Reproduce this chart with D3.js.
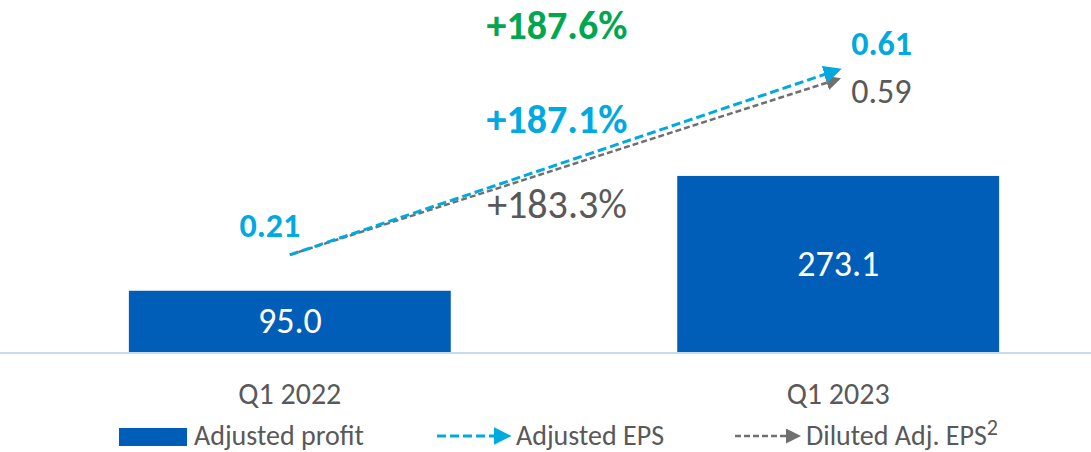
<!DOCTYPE html>
<html>
<head>
<meta charset="utf-8">
<script src="https://cdn.jsdelivr.net/npm/d3@7"></script>
<style>
  body { margin: 0; background: #fff; }
  svg text { font-family: Carlito, Calibri, Lato, "Noto Sans", sans-serif; }
</style>
</head>
<body>
<div id="chart"></div>
<script>
// Chart Data
const categories = ["Q1 2022", "Q1 2023"];
const adjustedProfit = [95.0, 273.1];
const adjustedEps = [0.21, 0.61];
const dilutedEps = [0.21, 0.59];
const growthLabels = ["+187.6%", "+187.1%", "+183.3%"];
const legendLabels = ["Adjusted profit", "Adjusted EPS", "Diluted Adj. EPS"];

// Dimensions For SVG Element
let w = 1091, h = 452, baseY = 352;

let svg = d3.select("#chart").append("svg").attr("width", w).attr("height", h);

// Scales
let x = d3.scaleBand().domain(categories).range([0, 1128]).paddingInner(0.413).paddingOuter(0.235);
let yBar = d3.scaleLinear().domain([0, 546]).range([baseY, 0]);
let yEps = d3.scaleLinear().domain([0, 0.761]).range([baseY, 0]);
let cx = (c) => x(c) + x.bandwidth() / 2;

// Arrow Markers
let defs = svg.append("defs");
[["arrBlue", "#00a9e0"], ["arrGray", "#707070"]].forEach(([id, col]) => {
  defs.append("marker").attr("id", id).attr("viewBox", "0 0 10 10").attr("refX", 8).attr("refY", 5)
    .attr("markerWidth", 6).attr("markerHeight", 6).attr("markerUnits", "strokeWidth").attr("orient", "auto")
    .append("path").attr("d", "M0,0 L10,5 L0,10 Z").attr("fill", col);
});

// Bars
svg.selectAll("rect.bar").data(adjustedProfit).enter().append("rect").attr("class", "bar")
  .attr("x", (d, i) => x(categories[i])).attr("width", x.bandwidth())
  .attr("y", (d) => yBar(d)).attr("height", (d) => baseY - yBar(d))
  .attr("fill", "#005eb8");

svg.selectAll("text.barlbl").data(adjustedProfit).enter().append("text").attr("class", "barlbl")
  .attr("x", (d, i) => cx(categories[i])).attr("y", (d) => (yBar(d) + baseY) / 2 + 12)
  .attr("text-anchor", "middle").attr("fill", "#fff").style("font-size", "36px")
  .text((d) => d.toFixed(1));

// Axis Line And Category Labels
svg.append("line").attr("x1", 0).attr("x2", w).attr("y1", baseY + 1).attr("y2", baseY + 1)
  .attr("stroke", "#c5dcf1").attr("stroke-width", 2);

svg.selectAll("text.cat").data(categories).enter().append("text").attr("class", "cat")
  .attr("x", (d) => cx(d)).attr("y", 404).attr("text-anchor", "middle")
  .attr("fill", "#595959").style("font-size", "30px").text((d) => d);

// EPS Lines
let line = d3.line().x((d, i) => cx(categories[i]));
svg.append("path").datum(dilutedEps).attr("fill", "none").attr("stroke", "#707070")
  .attr("stroke-width", 2.5).attr("stroke-dasharray", "6,3").attr("marker-end", "url(#arrGray)")
  .attr("d", line.y((d) => yEps(d)));
svg.append("path").datum(adjustedEps).attr("fill", "none").attr("stroke", "#00a9e0")
  .attr("stroke-width", 3).attr("stroke-dasharray", "9,4").attr("marker-end", "url(#arrBlue)")
  .attr("d", line.y((d) => yEps(d)));

// EPS Value Labels
svg.append("text").attr("x", cx(categories[0]) - 20).attr("y", yEps(adjustedEps[0]) - 18)
  .attr("text-anchor", "middle").attr("fill", "#00a9e0").style("font-size", "34px").style("font-weight", "bold")
  .text(adjustedEps[0].toFixed(2));
svg.append("text").attr("x", cx(categories[1]) + 13).attr("y", yEps(adjustedEps[1]) - 15)
  .attr("fill", "#00a9e0").style("font-size", "34px").style("font-weight", "bold")
  .text(adjustedEps[1].toFixed(2));
svg.append("text").attr("x", cx(categories[1]) + 13).attr("y", yEps(dilutedEps[1]) + 24)
  .attr("fill", "#595959").style("font-size", "34px")
  .text(dilutedEps[1].toFixed(2));

// Growth Labels
let midX = (cx(categories[0]) + cx(categories[1])) / 2 - 7;
let growthStyle = [["#00a650", "bold", 39], ["#00a9e0", "bold", 133], ["#595959", "normal", 218]];
svg.selectAll("text.growth").data(growthLabels).enter().append("text").attr("class", "growth")
  .attr("x", midX).attr("y", (d, i) => growthStyle[i][2]).attr("text-anchor", "middle")
  .attr("fill", (d, i) => growthStyle[i][0]).style("font-weight", (d, i) => growthStyle[i][1])
  .style("font-size", "40px").text((d) => d);

// Legend
let lg = svg.append("g").attr("transform", "translate(0,436)");
lg.append("rect").attr("x", 119).attr("y", -8).attr("width", 68).attr("height", 18).attr("fill", "#005eb8");
lg.append("text").attr("x", 194).attr("y", 9).attr("fill", "#595959").style("font-size", "28px").text(legendLabels[0]);
lg.append("line").attr("x1", 437).attr("x2", 508).attr("y1", 0).attr("y2", 0).attr("stroke", "#00a9e0")
  .attr("stroke-width", 3).attr("stroke-dasharray", "9,4").attr("marker-end", "url(#arrBlue)");
lg.append("text").attr("x", 516).attr("y", 9).attr("fill", "#595959").style("font-size", "28px").text(legendLabels[1]);
lg.append("line").attr("x1", 735).attr("x2", 798).attr("y1", 0).attr("y2", 0).attr("stroke", "#707070")
  .attr("stroke-width", 2.5).attr("stroke-dasharray", "6,3").attr("marker-end", "url(#arrGray)");
let dl = lg.append("text").attr("x", 806).attr("y", 9).attr("fill", "#595959").style("font-size", "28px");
dl.append("tspan").text(legendLabels[2]);
dl.append("tspan").attr("dy", -10).style("font-size", "22px").text("2");
</script>
</body>
</html>
